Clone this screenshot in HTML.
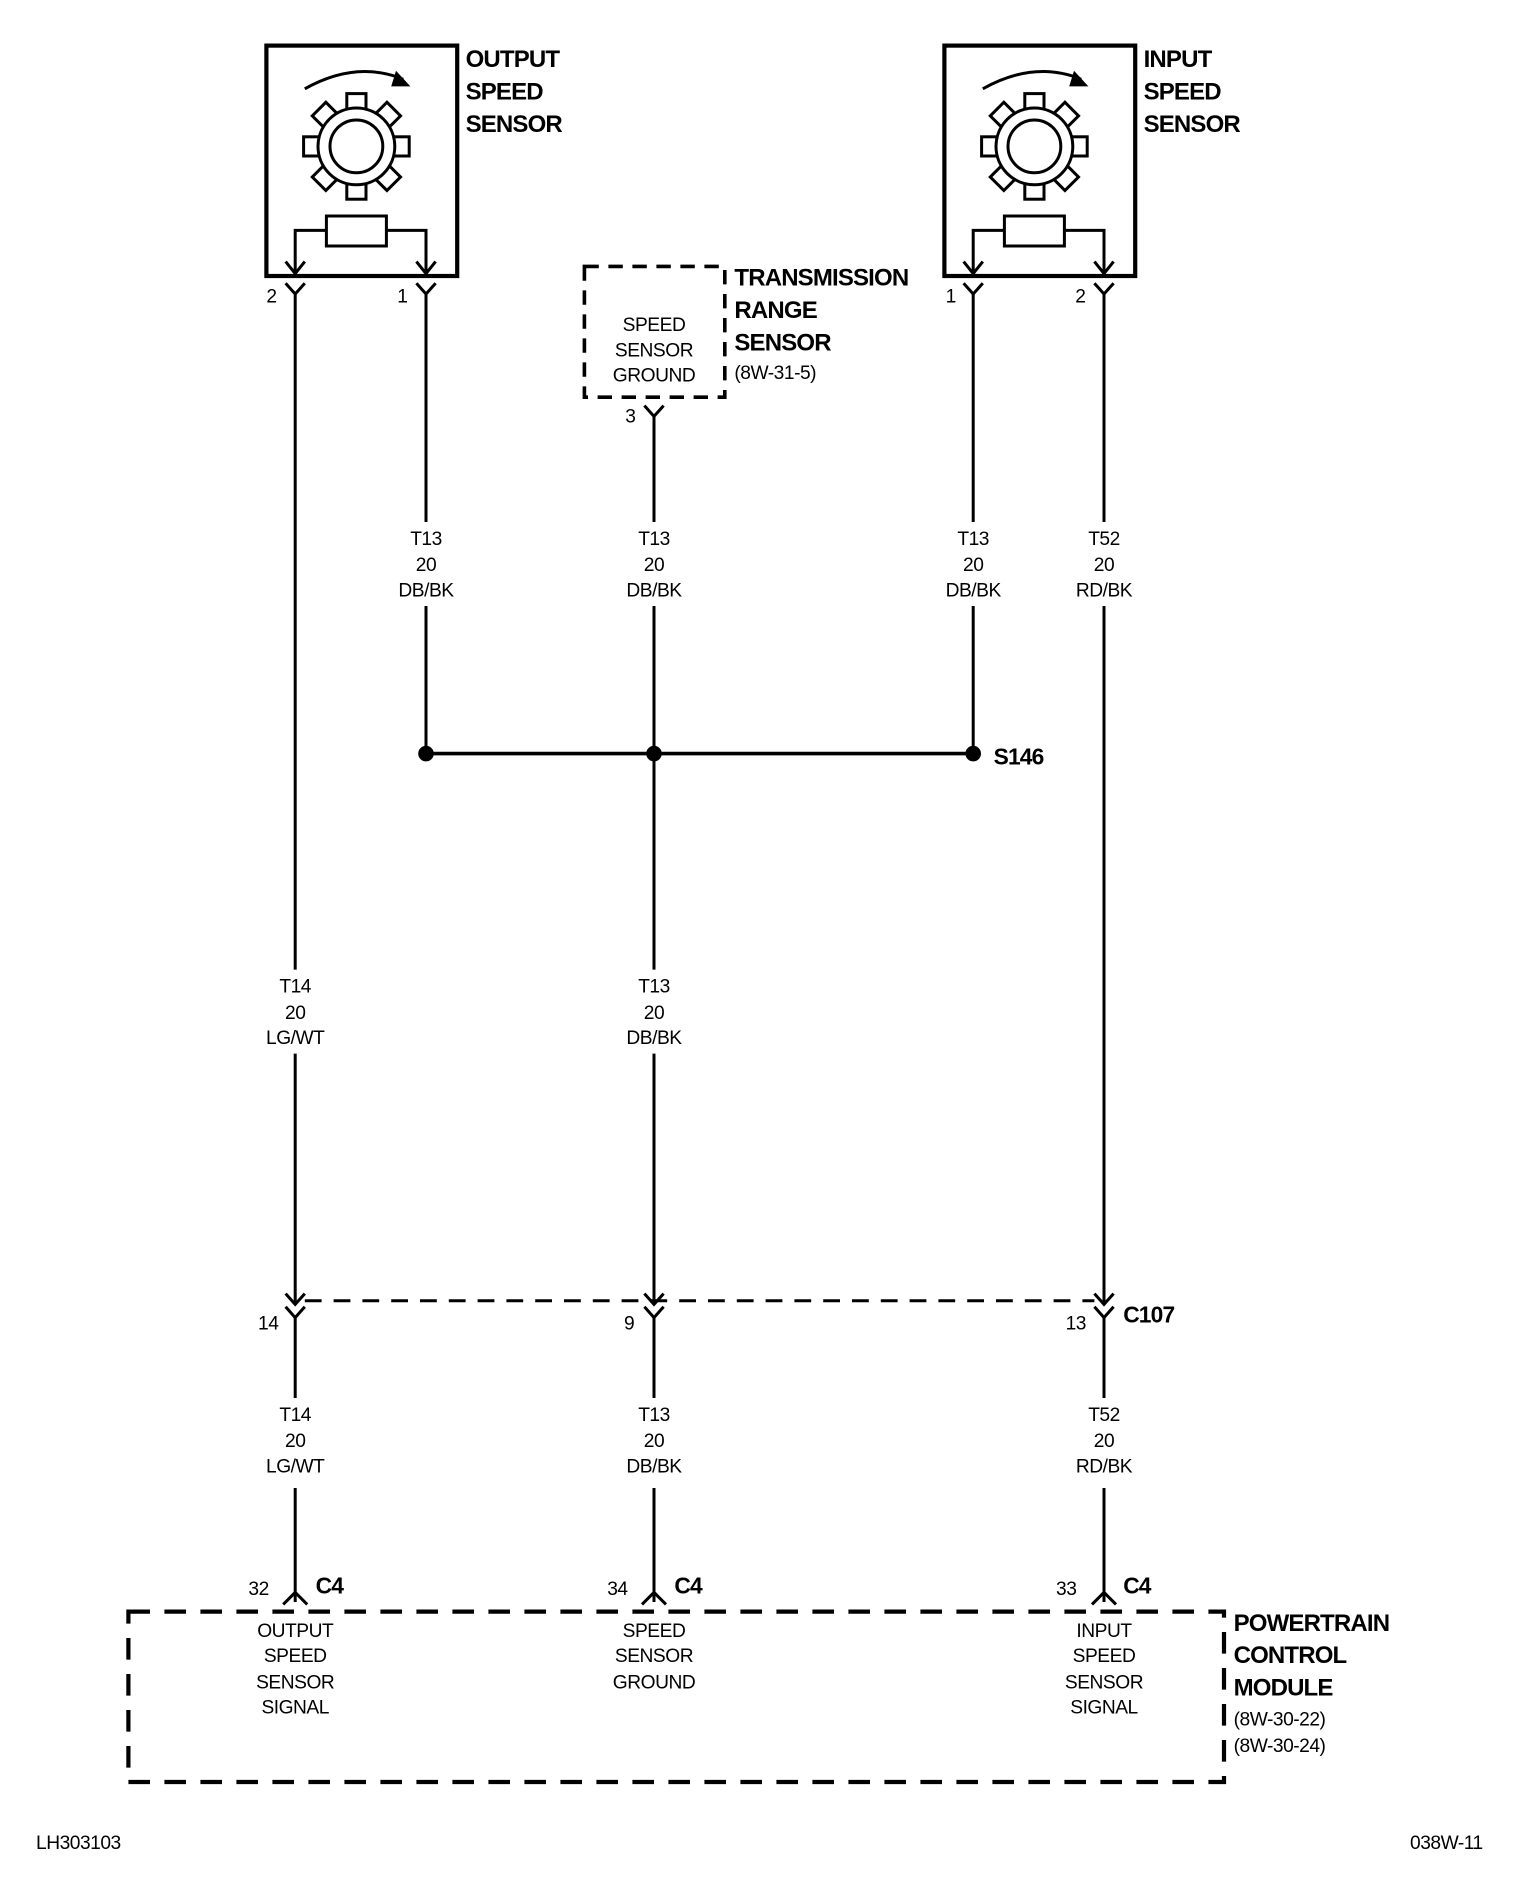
<!DOCTYPE html>
<html><head><meta charset="utf-8"><style>
html,body{margin:0;padding:0;background:#fff;}
svg{display:block;}
text{font-family:"Liberation Sans Narrow","Liberation Sans",sans-serif;fill:#000;}
.b{font-weight:bold;font-size:20px;letter-spacing:-0.7px;}
.r{font-size:16px;letter-spacing:-0.4px;}
.c{text-anchor:middle;}
</style></head><body>
<svg width="1536" height="1888" viewBox="0 0 1280 1573.33" xmlns="http://www.w3.org/2000/svg">
<defs>
<g id="gear">
 <g fill="#fff" stroke="#000" stroke-width="2.5">
  <rect x="-8" y="-44" width="16" height="20"/>
  <rect x="-8" y="-44" width="16" height="20" transform="rotate(45)"/>
  <rect x="-8" y="-44" width="16" height="20" transform="rotate(90)"/>
  <rect x="-8" y="-44" width="16" height="20" transform="rotate(135)"/>
  <rect x="-8" y="-44" width="16" height="20" transform="rotate(180)"/>
  <rect x="-8" y="-44" width="16" height="20" transform="rotate(225)"/>
  <rect x="-8" y="-44" width="16" height="20" transform="rotate(270)"/>
  <rect x="-8" y="-44" width="16" height="20" transform="rotate(315)"/>
  <circle r="32"/>
 </g>
 <circle r="22" fill="none" stroke="#000" stroke-width="2.5"/>
</g>
<g id="sensor">
 <rect x="0" y="0" width="159" height="192" fill="none" stroke="#000" stroke-width="3.5"/>
 <path d="M32 36 Q75 12 114 28" fill="none" stroke="#000" stroke-width="2.5"/>
 <path d="M108 21 L120 34 L104 34 Z" fill="#000"/>
 <use href="#gear" x="75" y="84"/>
 <rect x="50" y="142" width="50" height="25" fill="none" stroke="#000" stroke-width="2.5"/>
 <path d="M50 154 H24 V190 M100 154 H133 V190" fill="none" stroke="#000" stroke-width="2.5"/>
 <path d="M16 180 L24 190 L32 180 M125 180 L133 190 L141 180" fill="none" stroke="#000" stroke-width="2.5"/>
</g>
</defs>

<use href="#sensor" x="222" y="38"/>
<use href="#sensor" x="787" y="38"/>

<text class="b" x="388" y="56">OUTPUT</text>
<text class="b" x="388" y="83">SPEED</text>
<text class="b" x="388" y="110">SENSOR</text>
<text class="b" x="953" y="56">INPUT</text>
<text class="b" x="953" y="83">SPEED</text>
<text class="b" x="953" y="110">SENSOR</text>

<rect x="487" y="222" width="117" height="109" fill="none" stroke="#000" stroke-width="3" stroke-dasharray="12,8"/>
<text class="r c" x="545" y="276">SPEED</text>
<text class="r c" x="545" y="297">SENSOR</text>
<text class="r c" x="545" y="318">GROUND</text>
<text class="b" x="612" y="238">TRANSMISSION</text>
<text class="b" x="612" y="265">RANGE</text>
<text class="b" x="612" y="292">SENSOR</text>
<text class="r" x="612" y="316">(8W-31-5)</text>

<g fill="none" stroke="#000" stroke-width="2.5">
 <path d="M238 236 L246 245 L254 236 M347 236 L355 245 L363 236 M803 236 L811 245 L819 236 M912 236 L920 245 L928 236 M537 338 L545 347 L553 338"/>
 <path d="M246 245 V808 M246 878 V1085"/>
 <path d="M355 245 V435 M355 505 V628"/>
 <path d="M545 347 V435 M545 505 V808 M545 878 V1085"/>
 <path d="M811 245 V435 M811 505 V628"/>
 <path d="M920 245 V435 M920 505 V1085"/>
 <path d="M355 628 H811" stroke-width="3"/>
 <path d="M238 1078 L246 1087 L254 1078 M238 1089 L246 1098 L254 1089 M537 1078 L545 1087 L553 1078 M537 1089 L545 1098 L553 1089 M912 1078 L920 1087 L928 1078 M912 1089 L920 1098 L928 1089"/>
 <path d="M254 1084 H912" stroke-width="2.5" stroke-dasharray="14,10"/>
 <path d="M246 1098 V1165 M246 1240 V1335"/>
 <path d="M545 1098 V1165 M545 1240 V1335"/>
 <path d="M920 1098 V1165 M920 1240 V1335"/>
 <path d="M236 1337 L246 1327 L256 1337 M535 1337 L545 1327 L555 1337 M910 1337 L920 1327 L930 1337"/>
 <rect x="107" y="1343" width="913" height="142" stroke-width="3.5" stroke-dasharray="18,12"/>
</g>
<circle cx="355" cy="628" r="6.5"/><circle cx="545" cy="628" r="6.5"/><circle cx="811" cy="628" r="6.5"/>
<text class="b" x="828" y="637" style="font-size:19px">S146</text>

<g class="r">
<text x="222" y="252">2</text><text x="331" y="252">1</text>
<text x="788" y="252">1</text><text x="896" y="252">2</text>
<text x="521" y="352">3</text>
</g>
<g class="r c">
<text x="355" y="454">T13</text><text x="355" y="476">20</text><text x="355" y="497">DB/BK</text>
<text x="545" y="454">T13</text><text x="545" y="476">20</text><text x="545" y="497">DB/BK</text>
<text x="811" y="454">T13</text><text x="811" y="476">20</text><text x="811" y="497">DB/BK</text>
<text x="920" y="454">T52</text><text x="920" y="476">20</text><text x="920" y="497">RD/BK</text>
<text x="246" y="827">T14</text><text x="246" y="849">20</text><text x="246" y="870">LG/WT</text>
<text x="545" y="827">T13</text><text x="545" y="849">20</text><text x="545" y="870">DB/BK</text>
<text x="246" y="1184">T14</text><text x="246" y="1206">20</text><text x="246" y="1227">LG/WT</text>
<text x="545" y="1184">T13</text><text x="545" y="1206">20</text><text x="545" y="1227">DB/BK</text>
<text x="920" y="1184">T52</text><text x="920" y="1206">20</text><text x="920" y="1227">RD/BK</text>
<text x="246" y="1364">OUTPUT</text><text x="246" y="1385">SPEED</text><text x="246" y="1407">SENSOR</text><text x="246" y="1428">SIGNAL</text>
<text x="545" y="1364">SPEED</text><text x="545" y="1385">SENSOR</text><text x="545" y="1407">GROUND</text>
<text x="920" y="1364">INPUT</text><text x="920" y="1385">SPEED</text><text x="920" y="1407">SENSOR</text><text x="920" y="1428">SIGNAL</text>
</g>
<g class="r">
<text x="215" y="1108">14</text><text x="520" y="1108">9</text><text x="888" y="1108">13</text>
<text x="207" y="1329">32</text><text x="506" y="1329">34</text><text x="880" y="1329">33</text>
<text x="1028" y="1438">(8W-30-22)</text><text x="1028" y="1460">(8W-30-24)</text>
<text x="30" y="1541">LH303103</text><text x="1175" y="1541">038W-11</text>
</g>
<text class="b" x="936" y="1102" style="font-size:19px">C107</text>
<text class="b" x="263" y="1328" style="font-size:19px">C4</text>
<text class="b" x="562" y="1328" style="font-size:19px">C4</text>
<text class="b" x="936" y="1328" style="font-size:19px">C4</text>
<text class="b" x="1028" y="1359">POWERTRAIN</text>
<text class="b" x="1028" y="1386">CONTROL</text>
<text class="b" x="1028" y="1413">MODULE</text>
</svg>
</body></html>
